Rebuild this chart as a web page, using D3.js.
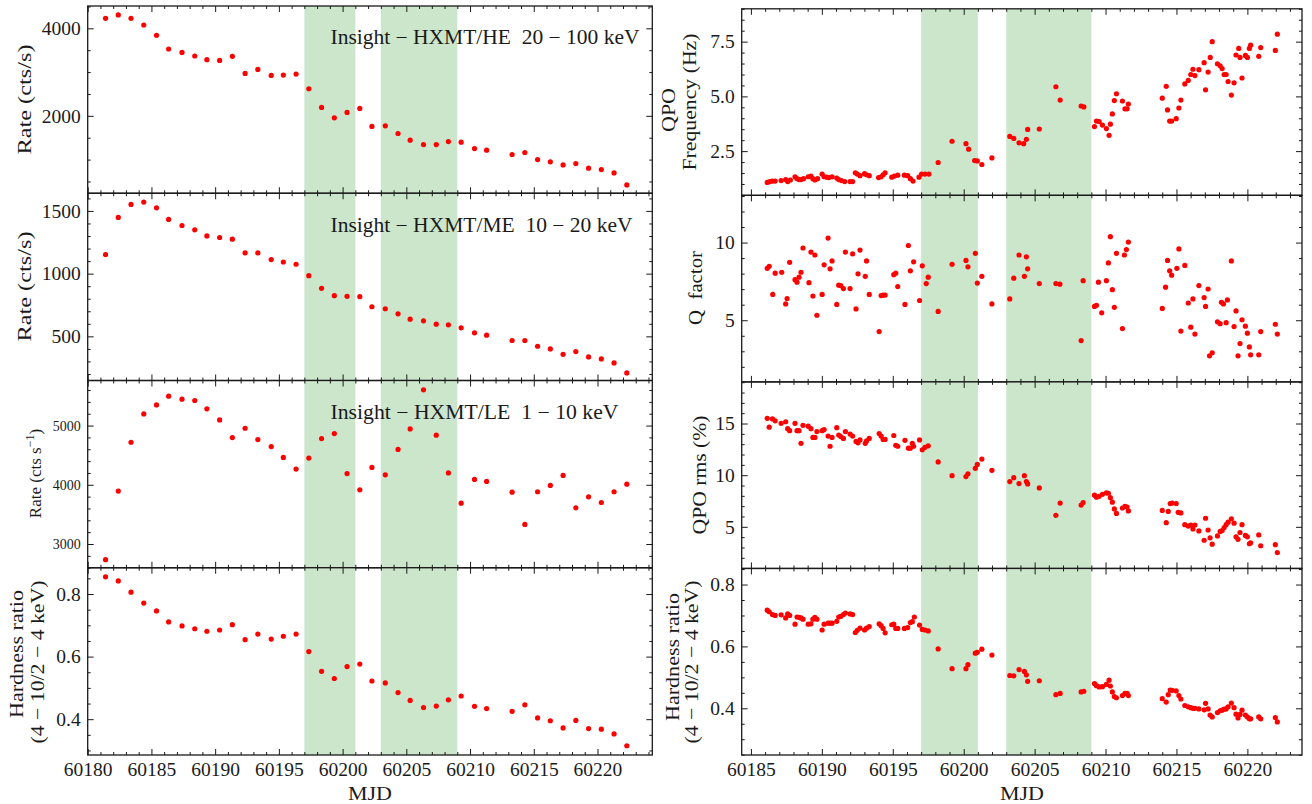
<!DOCTYPE html>
<html><head><meta charset="utf-8">
<script src="https://cdn.jsdelivr.net/npm/d3@7"></script>
<style>html,body{margin:0;padding:0;background:#fff;}svg text{white-space:pre;}</style>
</head><body>
<script>
// ---------------- DATA ----------------
const leftMJD = [60181.4,60182.4,60183.4,60184.4,60185.4,60186.35,60187.4,60188.4,60189.35,60190.35,60191.35,60192.35,60193.35,60194.4,60195.35,60196.35,60197.35,60198.35,60199.35,60200.35,60201.35,60202.3,60203.35,60204.35,60205.3,60206.35,60207.35,60208.3,60209.3,60210.35,60211.3,60213.3,60214.3,60215.3,60216.3,60217.3,60218.3,60219.3,60220.3,60221.3,60222.3];
const heRate = [4229,4305,4229,4076,3840,3527,3450,3367,3283,3267,3359,2970,3061,2924,2931,2954,2619,2192,1955,2077,2169,1757,1772,1596,1444,1344,1344,1413,1398,1253,1215,1116,1162,1001,948,879,910,803,772,696,421];
const meRate = [1152,1448,1552,1571,1525,1432,1384,1349,1301,1288,1275,1165,1165,1112,1093,1075,984,883,824,819,816,736,720,680,637,624,597,592,568,528,509,467,467,421,400,357,379,336,320,288,208];
const leRate = [2735,3893,4718,5197,5349,5496,5445,5423,5282,5096,4797,4955,4763,4645,4462,4265,4451,4780,4865,4190,3915,4293,4169,4597,4944,5603,4837,4200,3690,4090,4056,3876,3330,3882,3989,4158,3611,3797,3701,3882,4011];
const hrLeft = [0.855,0.842,0.806,0.771,0.746,0.711,0.698,0.689,0.681,0.685,0.702,0.654,0.672,0.656,0.665,0.672,0.616,0.553,0.530,0.568,0.576,0.522,0.516,0.485,0.460,0.437,0.442,0.462,0.474,0.441,0.434,0.425,0.446,0.404,0.395,0.372,0.396,0.370,0.368,0.353,0.315];

const qpoFreq = [[60186.15,1.07],[60186.33,1.11],[60186.52,1.13],[60186.71,1.13],[60187.13,1.155],[60187.45,1.20],[60187.59,1.11],[60187.78,1.18],[60188.11,1.33],[60188.25,1.24],[60188.39,1.20],[60188.53,1.20],[60188.71,1.24],[60189.04,1.33],[60189.23,1.36],[60189.37,1.24],[60189.51,1.18],[60189.70,1.24],[60190.02,1.45],[60190.16,1.33],[60190.35,1.31],[60190.49,1.29],[60190.72,1.33],[60191.05,1.27],[60191.19,1.20],[60191.38,1.155],[60191.61,1.11],[60191.99,1.11],[60192.17,1.11],[60192.36,1.51],[60192.50,1.45],[60192.69,1.38],[60193.01,1.47],[60193.15,1.42],[60193.34,1.38],[60194.00,1.29],[60194.18,1.33],[60194.32,1.42],[60194.46,1.51],[60194.93,1.31],[60195.12,1.36],[60195.35,1.40],[60195.82,1.40],[60196.05,1.38],[60196.24,1.24],[60196.43,1.13],[60196.85,1.31],[60197.03,1.45],[60197.27,1.45],[60197.55,1.45],[60198.20,1.98],[60199.18,2.95],[60200.16,2.84],[60200.35,2.59],[60200.77,2.07],[60200.96,2.05],[60201.28,1.89],[60201.99,2.19],[60203.25,3.17],[60203.53,3.08],[60203.90,2.88],[60204.23,2.84],[60204.42,3.04],[60204.51,3.49],[60205.33,3.51],[60206.50,5.44],[60206.80,4.83],[60208.28,4.56],[60208.47,4.52],[60209.22,3.62],[60209.36,3.87],[60209.55,3.85],[60209.78,3.69],[60210.06,3.53],[60210.25,3.22],[60210.34,3.73],[60210.48,4.20],[60210.62,4.81],[60210.77,5.12],[60211.19,4.79],[60211.37,4.43],[60211.52,4.43],[60211.61,4.65],[60214.00,4.92],[60214.28,5.46],[60214.37,4.38],[60214.52,3.87],[60214.66,3.87],[60214.98,3.98],[60215.17,4.47],[60215.31,4.83],[60215.59,5.57],[60215.83,5.73],[60216.01,6.00],[60216.16,6.24],[60216.30,5.95],[60216.58,6.22],[60216.95,6.54],[60217.05,5.30],[60217.23,6.11],[60217.38,6.78],[60217.52,7.50],[60217.89,6.49],[60218.08,6.40],[60218.22,6.27],[60218.36,6.00],[60218.50,6.00],[60218.64,5.68],[60218.87,5.06],[60219.06,5.62],[60219.20,6.89],[60219.39,7.19],[60219.48,6.78],[60219.62,5.84],[60219.86,6.87],[60220.00,6.78],[60220.14,7.19],[60220.23,7.34],[60220.80,6.83],[60220.94,7.23],[60221.97,7.10],[60222.11,7.84]];

const qFactor = [[60186.15,8.34],[60186.29,8.47],[60186.54,6.66],[60186.71,8.03],[60187.17,8.09],[60187.45,6.05],[60187.55,6.40],[60187.73,8.73],[60188.11,7.61],[60188.25,7.45],[60188.39,7.77],[60188.53,8.09],[60188.67,9.65],[60189.09,7.42],[60189.23,9.39],[60189.37,6.56],[60189.51,9.20],[60189.65,5.32],[60190.02,6.66],[60190.16,8.57],[60190.44,10.29],[60190.58,8.31],[60190.72,8.82],[60191.05,6.02],[60191.19,7.26],[60191.33,7.23],[60191.52,7.04],[60191.66,9.39],[60191.99,7.04],[60192.17,9.27],[60192.41,5.73],[60192.55,7.99],[60192.69,9.52],[60193.06,7.83],[60193.15,8.82],[60193.34,6.66],[60194.04,4.27],[60194.18,6.59],[60194.32,6.62],[60194.46,6.62],[60195.07,7.93],[60195.21,8.03],[60195.35,7.17],[60195.86,6.02],[60196.10,9.81],[60196.24,8.18],[60196.47,8.76],[60196.89,6.27],[60197.08,8.50],[60197.36,7.36],[60197.50,7.77],[60198.20,5.57],[60199.18,8.60],[60200.16,8.85],[60200.30,8.44],[60200.82,9.30],[60200.96,7.39],[60201.28,7.83],[60201.99,6.05],[60203.25,6.37],[60203.53,7.71],[60203.90,9.20],[60204.28,7.83],[60204.42,9.08],[60204.51,8.31],[60205.33,7.36],[60206.50,7.36],[60206.78,7.32],[60208.28,3.69],[60208.42,7.55],[60209.22,5.89],[60209.36,5.96],[60209.50,7.45],[60209.73,5.48],[60210.06,7.55],[60210.20,8.69],[60210.34,10.38],[60210.48,6.97],[60210.62,5.83],[60210.77,9.30],[60211.19,4.46],[60211.33,9.20],[60211.47,9.55],[60211.61,10.03],[60214.00,5.76],[60214.23,7.13],[60214.37,8.85],[60214.52,8.18],[60214.66,7.90],[60215.03,8.34],[60215.17,9.59],[60215.31,4.30],[60215.59,8.53],[60215.83,6.11],[60216.01,4.55],[60216.16,6.37],[60216.30,4.11],[60216.58,7.23],[60216.95,6.46],[60217.05,5.89],[60217.23,7.01],[60217.33,2.71],[60217.52,2.90],[60217.89,4.90],[60218.08,4.78],[60218.17,6.15],[60218.31,6.05],[60218.50,4.84],[60218.59,6.31],[60218.87,8.82],[60219.06,4.59],[60219.20,5.60],[60219.34,2.71],[60219.48,3.50],[60219.62,5.03],[60219.86,4.62],[60220.00,4.17],[60220.14,3.28],[60220.23,2.77],[60220.80,2.77],[60220.94,4.27],[60221.97,4.74],[60222.11,4.11]];

const qpoRms = [[60186.15,15.50],[60186.29,14.65],[60186.52,15.45],[60186.71,15.26],[60187.13,15.02],[60187.45,15.17],[60187.59,14.50],[60187.73,14.31],[60188.11,15.02],[60188.25,14.31],[60188.39,14.31],[60188.53,13.08],[60188.67,14.83],[60189.04,14.74],[60189.23,14.50],[60189.37,13.65],[60189.51,13.65],[60189.65,14.22],[60190.02,14.31],[60190.16,14.41],[60190.44,13.79],[60190.58,12.80],[60190.72,13.65],[60191.05,14.60],[60191.19,13.89],[60191.33,13.74],[60191.52,13.56],[60191.66,14.22],[60191.99,13.98],[60192.17,13.79],[60192.41,13.27],[60192.55,13.13],[60192.69,13.41],[60193.06,13.08],[60193.15,13.32],[60193.34,13.56],[60194.04,14.03],[60194.18,13.79],[60194.32,13.46],[60194.46,13.46],[60195.07,13.84],[60195.21,12.89],[60195.35,12.80],[60195.86,13.37],[60196.10,12.61],[60196.24,12.61],[60196.38,13.08],[60196.47,12.80],[60196.89,13.41],[60197.08,12.46],[60197.27,12.70],[60197.50,12.84],[60198.20,11.28],[60199.18,9.95],[60200.16,9.86],[60200.30,10.14],[60200.82,10.66],[60200.96,11.04],[60201.28,11.56],[60201.99,10.47],[60203.25,9.38],[60203.53,9.76],[60203.90,9.19],[60204.28,9.95],[60204.42,9.38],[60204.51,9.15],[60205.33,8.77],[60206.50,6.11],[60206.80,7.30],[60208.28,7.11],[60208.42,7.35],[60209.22,8.06],[60209.36,7.87],[60209.55,7.96],[60209.78,8.15],[60210.06,8.29],[60210.20,8.25],[60210.34,7.82],[60210.48,7.39],[60210.62,6.73],[60210.77,6.30],[60211.19,6.82],[60211.37,6.97],[60211.52,6.92],[60211.61,6.54],[60214.00,6.59],[60214.28,5.40],[60214.42,6.49],[60214.56,7.25],[60214.70,7.30],[60214.98,7.25],[60215.12,6.40],[60215.31,6.35],[60215.59,5.21],[60215.83,5.07],[60216.01,5.17],[60216.16,4.79],[60216.30,5.17],[60216.58,4.60],[60216.95,3.70],[60217.05,5.83],[60217.23,4.69],[60217.37,3.93],[60217.52,3.32],[60217.89,4.12],[60218.08,4.55],[60218.22,4.64],[60218.36,4.93],[60218.50,5.21],[60218.64,5.45],[60218.87,5.78],[60219.06,5.35],[60219.20,4.03],[60219.34,3.79],[60219.48,4.45],[60219.62,5.21],[60219.86,4.17],[60220.00,4.03],[60220.14,3.36],[60220.23,3.46],[60220.80,4.22],[60220.94,3.17],[60221.97,3.27],[60222.11,2.51]];

const hrRight = [[60186.15,0.717],[60186.29,0.712],[60186.52,0.703],[60186.71,0.700],[60187.13,0.702],[60187.45,0.692],[60187.59,0.705],[60187.73,0.700],[60188.11,0.672],[60188.25,0.695],[60188.39,0.694],[60188.53,0.692],[60188.67,0.688],[60189.04,0.672],[60189.23,0.673],[60189.37,0.688],[60189.51,0.694],[60189.65,0.688],[60190.02,0.653],[60190.16,0.672],[60190.44,0.675],[60190.58,0.675],[60190.72,0.675],[60191.05,0.681],[60191.19,0.695],[60191.33,0.697],[60191.52,0.703],[60191.66,0.708],[60191.99,0.705],[60192.17,0.703],[60192.36,0.645],[60192.50,0.652],[60192.69,0.659],[60193.01,0.653],[60193.15,0.659],[60193.34,0.664],[60194.04,0.673],[60194.18,0.667],[60194.32,0.658],[60194.46,0.644],[60194.93,0.670],[60195.07,0.672],[60195.21,0.658],[60195.35,0.658],[60195.82,0.658],[60196.05,0.661],[60196.24,0.677],[60196.38,0.680],[60196.52,0.695],[60196.89,0.669],[60197.08,0.655],[60197.27,0.653],[60197.50,0.650],[60198.20,0.592],[60199.18,0.528],[60200.16,0.528],[60200.30,0.541],[60200.82,0.578],[60200.96,0.581],[60201.28,0.591],[60201.99,0.572],[60203.25,0.506],[60203.53,0.505],[60203.90,0.525],[60204.28,0.519],[60204.42,0.508],[60204.51,0.487],[60205.33,0.489],[60206.50,0.444],[60206.80,0.448],[60208.28,0.453],[60208.47,0.455],[60209.22,0.480],[60209.36,0.473],[60209.55,0.469],[60209.78,0.470],[60210.06,0.477],[60210.25,0.491],[60210.34,0.472],[60210.48,0.453],[60210.62,0.438],[60210.77,0.434],[60211.19,0.441],[60211.37,0.448],[60211.52,0.448],[60211.61,0.441],[60214.00,0.431],[60214.28,0.420],[60214.42,0.444],[60214.56,0.459],[60214.70,0.458],[60214.98,0.456],[60215.17,0.441],[60215.31,0.430],[60215.59,0.409],[60215.83,0.405],[60216.01,0.402],[60216.16,0.400],[60216.30,0.400],[60216.58,0.398],[60216.95,0.395],[60217.05,0.416],[60217.23,0.398],[60217.37,0.378],[60217.52,0.372],[60217.89,0.386],[60218.08,0.392],[60218.22,0.394],[60218.36,0.397],[60218.50,0.398],[60218.64,0.405],[60218.87,0.417],[60219.06,0.402],[60219.20,0.381],[60219.34,0.369],[60219.48,0.380],[60219.62,0.394],[60219.86,0.378],[60220.00,0.372],[60220.14,0.366],[60220.23,0.366],[60220.80,0.372],[60220.94,0.366],[60221.97,0.370],[60222.11,0.356]];

const bands = [[60197, 60201], [60203, 60209]];
const leftXTicks = [60180, 60185, 60190, 60195, 60200, 60205, 60210, 60215, 60220];
const rightXTicks = [60185, 60190, 60195, 60200, 60205, 60210, 60215, 60220];
const heTicks = [2000, 4000];
const meTicks = [500, 1000, 1500];
const leTicks = [3000, 4000, 5000];
const hrTicks = [0.4, 0.6, 0.8];
const freqTicks = [2.5, 5.0, 7.5];
const qTicks = [5, 10];
const rmsTicks = [5, 10, 15];

// ---------------- LAYOUT ----------------
const W = 1312, H = 804;
const FONT = "'Liberation Serif','DejaVu Serif',serif";
const INK = "#1a1a1a";
const svg = d3.select("body").append("svg").attr("width", W).attr("height", H)
  .attr("font-family", FONT);
svg.append("rect").attr("width", W).attr("height", H).attr("fill", "#fff");

const colL = {x0: 87.7, x1: 652.3, top: 6, h: 187.25, dom: [60180, 60224.3], ticks: leftXTicks};
const colR = {x0: 741.7, x1: 1302, top: 8.8, h: 186.55, dom: [60184.35, 60223.85], ticks: rightXTicks};

const zip = (xs, ys) => xs.map((m, i) => [m, ys[i]]);

const panels = [
  {col: colL, row: 0, data: zip(leftMJD, heRate), yDom: [231, 4510], yTicks: heTicks, minor: 500, fmt: d3.format("d"), fs: 19.5},
  {col: colL, row: 1, data: zip(leftMJD, meRate), yDom: [148, 1641], yTicks: meTicks, minor: 100, fmt: d3.format("d"), fs: 19.5},
  {col: colL, row: 2, data: zip(leftMJD, leRate), yDom: [2599, 5761], yTicks: leTicks, minor: 200, fmt: d3.format("d"), fs: 14},
  {col: colL, row: 3, data: zip(leftMJD, hrLeft), yDom: [0.2855, 0.884], yTicks: hrTicks, minor: 0.05, fmt: d3.format(".1f"), fs: 19.5, bottom: true},
  {col: colR, row: 0, data: qpoFreq, yDom: [0.48, 9.0], yTicks: freqTicks, minor: 0.5, fmt: d3.format(".1f"), fs: 19.5},
  {col: colR, row: 1, data: qFactor, yDom: [1.03, 13.04], yTicks: qTicks, minor: 1, fmt: d3.format("d"), fs: 19.5},
  {col: colR, row: 2, data: qpoRms, yDom: [0.97, 19.03], yTicks: rmsTicks, minor: 1, fmt: d3.format("d"), fs: 19.5},
  {col: colR, row: 3, data: hrRight, yDom: [0.249, 0.852], yTicks: hrTicks, minor: 0.05, fmt: d3.format(".1f"), fs: 19.5, bottom: true}
];

function minorVals(dom, step, majors) {
  const out = [];
  const n0 = Math.ceil(dom[0] / step - 1e-9), n1 = Math.floor(dom[1] / step + 1e-9);
  for (let n = n0; n <= n1; n++) {
    const v = +(n * step).toFixed(6);
    if (!majors.some(m => Math.abs(m - v) < step * 1e-3)) out.push(v);
  }
  return out;
}

function styleAxis(sel, fs) {
  sel.select(".domain").remove();
  sel.selectAll("line").attr("stroke", INK).attr("stroke-width", 1);
  sel.selectAll("text").attr("fill", INK).attr("font-family", FONT).attr("font-size", fs);
  sel.attr("font-family", FONT).attr("font-size", fs);
}

panels.forEach((p, idx) => {
  const c = p.col, top = c.top + p.row * c.h, w = c.x1 - c.x0, h = c.h;
  const x = d3.scaleLinear().domain(c.dom).range([0, w]);
  const y = d3.scaleLinear().domain(p.yDom).range([h, 0]);
  const g = svg.append("g").attr("transform", `translate(${c.x0},${top})`);
  const cid = "clip" + idx;
  g.append("clipPath").attr("id", cid).append("rect").attr("width", w).attr("height", h);
  const inner = g.append("g").attr("clip-path", `url(#${cid})`);
  inner.selectAll("rect.band").data(bands).join("rect").attr("class", "band")
    .attr("x", d => x(d[0])).attr("width", d => x(d[1]) - x(d[0]))
    .attr("y", 0).attr("height", h).attr("fill", "#cce6cc");
  inner.selectAll("circle").data(p.data).join("circle")
    .attr("cx", d => x(d[0])).attr("cy", d => y(d[1])).attr("r", 2.6).attr("fill", "#ff0000");

  const xMinor = minorVals(c.dom, 1, c.ticks);
  const yMinor = minorVals(p.yDom, p.minor, p.yTicks);

  // x axes
  g.append("g").attr("transform", `translate(0,${h})`)
    .call(d3.axisBottom(x).tickValues(c.ticks).tickSize(-6).tickPadding(7)
      .tickFormat(p.bottom ? d3.format("d") : () => ""))
    .call(s => styleAxis(s, 19.5));
  g.append("g").attr("transform", `translate(0,${h})`)
    .call(d3.axisBottom(x).tickValues(xMinor).tickSize(-3).tickFormat(() => ""))
    .call(s => styleAxis(s, 19.5));
  g.append("g").call(d3.axisTop(x).tickValues(c.ticks).tickSize(-6).tickFormat(() => ""))
    .call(s => styleAxis(s, 19.5));
  g.append("g").call(d3.axisTop(x).tickValues(xMinor).tickSize(-3).tickFormat(() => ""))
    .call(s => styleAxis(s, 19.5));
  // y axes
  g.append("g").call(d3.axisLeft(y).tickValues(p.yTicks).tickSize(-6).tickPadding(7).tickFormat(p.fmt))
    .call(s => styleAxis(s, p.fs));
  g.append("g").call(d3.axisLeft(y).tickValues(yMinor).tickSize(-3).tickFormat(() => ""))
    .call(s => styleAxis(s, p.fs));
  g.append("g").attr("transform", `translate(${w},0)`)
    .call(d3.axisRight(y).tickValues(p.yTicks).tickSize(-6).tickFormat(() => ""))
    .call(s => styleAxis(s, p.fs));
  g.append("g").attr("transform", `translate(${w},0)`)
    .call(d3.axisRight(y).tickValues(yMinor).tickSize(-3).tickFormat(() => ""))
    .call(s => styleAxis(s, p.fs));

  g.append("rect").attr("width", w).attr("height", h).attr("fill", "none")
    .attr("stroke", INK).attr("stroke-width", 1.3);
});

// ---------------- TEXT ----------------
function txt(x, y, s, size, opts = {}) {
  const t = svg.append("text").attr("x", x).attr("y", y).attr("font-size", size)
    .attr("fill", INK).attr("text-anchor", opts.anchor || "start")
    .attr("xml:space", "preserve").text(s);
  if (opts.len) t.attr("textLength", opts.len).attr("lengthAdjust", "spacingAndGlyphs");
  return t;
}
function ylab(xb, yc, s, size, len) {
  const t = svg.append("text").attr("transform", `translate(${xb},${yc}) rotate(-90)`)
    .attr("text-anchor", "middle").attr("font-size", size).attr("fill", INK)
    .attr("xml:space", "preserve").text(s);
  if (len) t.attr("textLength", len).attr("lengthAdjust", "spacingAndGlyphs");
  return t;
}

// instrument annotations
txt(330.5, 44.3, "Insight − HXMT/HE  20 − 100 keV", 20.5, {len: 309});
txt(330.5, 231.7, "Insight − HXMT/ME  10 − 20 keV", 20.5, {len: 302});
txt(330.5, 418.5, "Insight − HXMT/LE  1 − 10 keV", 20.5, {len: 288});

// left y labels
ylab(31, 99.5, "Rate (cts/s)", 19.5, 110);
ylab(31, 286.5, "Rate (cts/s)", 19.5, 110);
{
  const t = svg.append("text").attr("transform", `translate(41,473.5) rotate(-90)`)
    .attr("text-anchor", "middle").attr("font-size", 17).attr("fill", INK);
  t.append("tspan").text("Rate (cts s");
  t.append("tspan").attr("dy", -7).attr("font-size", 12).text("−1");
  t.append("tspan").attr("dy", 7).text(")");
}
ylab(23, 654, "Hardness ratio", 19.5, 128);
ylab(43.5, 662, "(4 − 10/2 − 4 keV)", 19.5, 163);

// right y labels
ylab(675, 110, "QPO", 19.5, 44);
ylab(695.5, 102, "Frequency (Hz)", 19.5, 137);
ylab(702, 288, "Q  factor", 19.5, 74);
ylab(705.5, 475, "QPO rms (%)", 19.5, 119);
ylab(679, 657, "Hardness ratio", 19.5, 128);
ylab(698, 662, "(4 − 10/2 − 4 keV)", 19.5, 163);

// x labels
txt(370, 800, "MJD", 19.5, {anchor: "middle", len: 44});
txt(1022, 800, "MJD", 19.5, {anchor: "middle", len: 44});
</script>
</body></html>
